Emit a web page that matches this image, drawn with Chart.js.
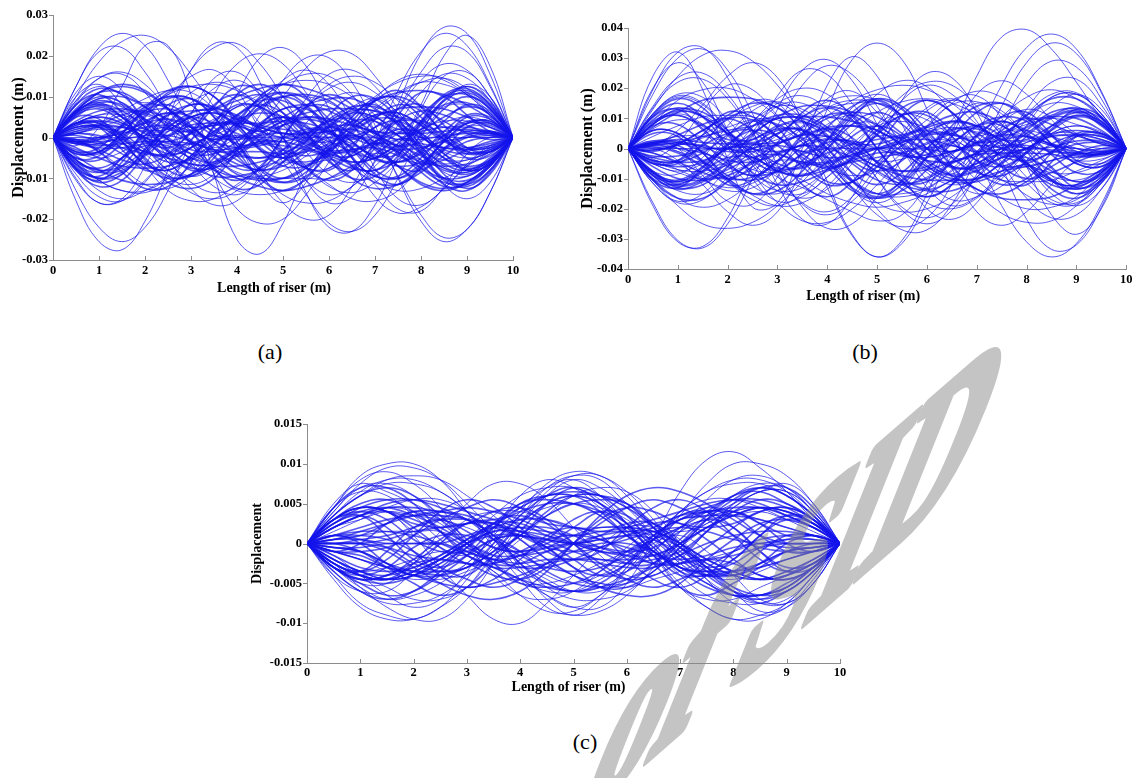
<!DOCTYPE html>
<html>
<head>
<meta charset="utf-8">
<title>Riser displacement</title>
<script src="https://cdn.jsdelivr.net/npm/chart.js@4.4.0/dist/chart.umd.min.js"></script>
<style>
  html, body { margin: 0; padding: 0; background: #fff; }
  body { width: 1136px; height: 778px; position: relative; overflow: hidden; }
  .panel { position: absolute; }
  .caption { position: absolute; font-family: 'Liberation Serif', 'Times New Roman', serif; font-size: 22px; color: #000; transform: translate(-50%, -50%); white-space: nowrap; }
  #mark { position: absolute; left: 0; top: 0; pointer-events: none; opacity: 0.5; }
</style>
</head>
<body>
<canvas id="panelA" class="panel" width="530" height="302" style="left:0px;top:0px;width:530px;height:302px"></canvas>
<canvas id="panelB" class="panel" width="566" height="312" style="left:570px;top:0px;width:566px;height:312px"></canvas>
<canvas id="panelC" class="panel" width="620" height="320" style="left:240px;top:380px;width:620px;height:320px"></canvas>
<div class="caption" style="left:270px;top:352px">(a)</div>
<div class="caption" style="left:865px;top:352px">(b)</div>
<div class="caption" style="left:585px;top:742px">(c)</div>
<canvas id="mark" width="1136" height="778"></canvas>
<script>
// Stations along the riser (m)
const xPos = [0, 0.5, 1, 1.5, 2, 2.5, 3, 3.5, 4, 4.5, 5, 5.5, 6, 6.5, 7, 7.5, 8, 8.5, 9, 9.5, 10];
const xTicks = [0, 1, 2, 3, 4, 5, 6, 7, 8, 9, 10];
const yTicksA = [-0.03, -0.02, -0.01, 0, 0.01, 0.02, 0.03];
const yTicksB = [-0.04, -0.03, -0.02, -0.01, 0, 0.01, 0.02, 0.03, 0.04];
const yTicksC = [-0.015, -0.01, -0.005, 0, 0.005, 0.01, 0.015];

// Deflected shapes, one row per snapshot, values in millimetres at the stations above
const dispA = [
  [0,12.5,22,25.5,22.5,14,2.5,-9,-17.5,-21,-20,-14,-6,2.5,9.5,14,15.5,14,10.5,5.5,0],
  [0,-1,-3.5,-7.5,-11.5,-12.5,-9,0,10.5,19.5,22,17.5,7,-5,-14.5,-18.5,-17,-12.5,-7,-2.5,0],
  [0,-15.5,-25.5,-27.5,-20.5,-8,5.5,14.5,16,10.5,0,-10.5,-16,-14.5,-5.5,8,20.5,27,25.5,15.5,0],
  [0,-2,2.5,12.5,22.5,22.5,10.5,-9,-25,-28.5,-21,-9,-2,-2,-4,-1.5,8,20,25,17.5,0],
  [0,-6.5,-10,-9,-2.5,7,16.5,22,23,18,10,1.5,-4,-4.5,0,7,14,18,16.5,10,0],
  [0,8.5,14.5,16,13,7,1,-2.5,0,3,10,17,21,20.5,15,7,-1,-7,-8.5,-5.5,0],
  [0,-13,-22,-25.5,-22,-13,-1,10.5,18,20.5,18,11,3,-4.5,-10.5,-13,-12.5,-10,-7,-3.5,0],
  [0,1.5,3.5,6.5,9.5,11.5,11,7,0,-8.5,-16,-20,-19,-12,-1,11.5,21,25.5,22.5,13,0],
  [0,1,0,-2.5,-6,-10,-11.5,-9,-3,5.5,14,19.5,19.5,13.5,3,-10,-20.5,-25.5,-22.5,-13.5,0],
  [0,-6,-10.5,-13,-13,-10,-5,0,0,0,-6,-14,-21,-23,-19,-10,1,9.5,12.5,8.5,0],
  [0,10,18.5,23.5,25,22,15.5,7.5,-1,-9,-14,-16,-15.5,-12,-7,-2,2,4,4,2.5,0],
  [0,3.5,4,0.5,-5,-9.5,-9.5,-5,3,10,13,10,3,-5,-9.5,-9.5,-5,0.5,4,3.5,0],
  [0,11,15,11.5,2.5,-6,-9.5,-7.5,-4,-1,0,1,4,7.5,9.5,6,-2.5,-11.5,-15,-11,0],
  [0,-3,-3.5,0,5.5,11,12.5,10,3.5,-3,-7,-7,-3.5,0,1.5,-1,-5.5,-10,-10.5,-7,0],
  [0,10,13,8,2,1.5,5,5.5,-1,-11,-16,-11,-1,5.5,5,1.5,2,8,13,10,0],
  [0,-8,-10.5,-6,2,8,9.5,6.5,3,1.5,3,4.5,3,-1,-4.5,-4,2,9,12.5,9,0],
  [0,3.5,5,3.5,1,-1.5,-1.5,1,5.5,9,9,5.5,-0.5,-7,-11,-11.5,-8.5,-4.5,-1,0,0],
  [0,-0.5,-3.5,-8.5,-12.5,-12,-6,3,10.5,13,10,5,1,0,0,-2,-6.5,-11.5,-13,-8.5,0],
  [0,6,9.5,8.5,3,-5,-12.5,-16.5,-15.5,-9.5,0,9.5,15.5,16.5,12.5,5,-3,-8.5,-9.5,-6,0],
  [0,12.5,21,22,16,7,-1.5,-7.5,-10,-10,-10,-10,-10,-7.5,-1.5,7,16,22,21,12.5,0],
  [0,-7.5,-13,-15,-13,-9.5,-4.5,0.5,5,9.5,13,15.5,15,10.5,1.5,-9.5,-19,-24.5,-22.5,-13.5,0],
  [0,6.5,8.5,5,-0.5,-2.5,1,7.5,12.5,11.5,6,0,-1,3,9,11.5,7.5,0.5,-5,-4.5,0],
  [0,2,2.5,0.5,-4,-9,-13.5,-15,-13,-7.5,0,7.5,13,15,13.5,9,4,-0.5,-2.5,-2,0],
  [0,-5.5,-8,-7,-3,2.5,6,7,5.5,2.5,1,1,1.5,2,0,-3.5,-8.5,-12,-11.5,-7,0],
  [0,9,12.5,10.5,8.5,10.5,15,16.5,11.5,2,-5,-6.5,-5.5,-6.5,-11.5,-17.5,-18,-12,-4,0,0],
  [0,-7.5,-9.5,-5,1.5,5.5,6.5,7,9,10.5,8,1,-6,-8,-2.5,5.5,11,10,5.5,1.5,0],
  [0,6.5,10,8.5,4.5,0,-3,-3.5,-3.5,-3.5,-4,-3.5,-1.5,2.5,5.5,6,3,-0.5,-3.5,-3,0],
  [0,2.5,2.5,-1,-7,-13,-15.5,-15,-11.5,-7.5,-6,-7.5,-11.5,-15,-15.5,-13,-7,-1,2.5,2.5,0],
  [0,1,2.5,4.5,7.5,10.5,12.5,13,11.5,8.5,5,2.5,1.5,3.5,6.5,10.5,13.5,14.5,12,7,0],
  [0,-10,-16,-15,-7,5,16.5,23,22,13.5,0,-13.5,-22,-23,-16.5,-5,7,15,16,10,0],
  [0,5,4.5,-1,-6.5,-8,-4.5,-0.5,0.5,-0.5,-1,1,4,4.5,1,-2,-1,4,8,6.5,0],
  [0,-10.5,-16,-15.5,-10.5,-5,-1.5,0.5,3.5,8.5,14,16.5,13,4,-7.5,-15,-16.5,-12.5,-6.5,-2,0],
  [0,6.5,11,12.5,11,7,2.5,-1,-2.5,-2,0,2,2.5,1,-2.5,-7,-11,-12.5,-11,-6.5,0],
  [0,1,0.5,-1.5,-3.5,-4.5,-2.5,1.5,5.5,8,6,1,-5.5,-10,-9.5,-4.5,3.5,10,11.5,8,0],
  [0,1,2,1.5,0,-2.5,-5,-8,-9.5,-9.5,-8,-4.5,0,5,10,13.5,15,14.5,11,6,0],
  [0,-8,-12,-10.5,-4,3.5,8,7,2.5,-3,-5,-3,2.5,7,8,3.5,-4,-10.5,-12,-8,0],
  [0,7,11,11,7.5,2.5,-1,-3,-2.5,-1,-1,-2.5,-4.5,-6,-5,-1.5,4,8,8.5,5.5,0],
  [0,0.5,-1,-4,-7.5,-10,-9,-4,2.5,8.5,11,9.5,4.5,-1,-5,-6,-4,-0.5,1.5,1.5,0],
  [0,1,3,5.5,6.5,4,-1.5,-8,-10.5,-7.5,0,7.5,10.5,8,1.5,-4,-6.5,-5.5,-3,-1,0],
  [0,-7,-10,-7,-0.5,5.5,8,7.5,5,3,2,1,-1,-3.5,-5,-2.5,3,9,11,7.5,0],
  [0,-1,0,3,7.5,11.5,12.5,10,4.5,-1,-5,-6,-4.5,-3,-2.5,-4.5,-7.5,-10,-9.5,-6,0],
  [0,-4.5,-8,-10.5,-11.5,-11,-9,-6,-2.5,1,4,6,7,7,6.5,5,4,2.5,1.5,0.5,0],
  [0,4,6.5,7,6,3.5,1,-0.5,0,2,5,8,9.5,9.5,7,3.5,0,-2.5,-3,-2,0],
  [0,3.5,2.5,-3,-8,-7,-2.5,0.5,-2,-7.5,-10,-7.5,-2,0.5,-2.5,-7,-8,-3,2.5,3.5,0],
  [0,6,9,7.5,4.5,2,1.5,3,3,0.5,-4,-7.5,-8,-4,0.5,4,3.5,0.5,-2.5,-2.5,0],
  [0,-6,-7.5,-5,-2,-2,-5,-6,-3,2.5,5,2.5,-3,-6,-5,-2,-2,-5,-7.5,-6,0],
  [0,3.5,5.5,6.5,5.5,3,-0.5,-5,-8.5,-10,-10,-7.5,-3.5,1.5,7,11,13.5,13,10.5,5.5,0],
  [0,-2.5,-5,-7,-7.5,-7,-5,-1.5,3,7,10,10.5,9,4.5,-1.5,-7,-11.5,-13,-11,-6.5,0],
  [0,5,8,6.5,2.5,-3,-6.5,-6.5,-4,0.5,4,5,4,1,-1.5,-3,-2.5,-1,0,0.5,0],
  [0,-1,-1,-0.5,0.5,0.5,-1,-3.5,-6.5,-8,-7,-3.5,1,4,4,0.5,-4,-8,-8.5,-5.5,0],
  [0,6.5,8,5,-0.5,-4,-2.5,1.5,4,2,-3,-7.5,-7.5,-2.5,4.5,8,6.5,1,-3.5,-3.5,0],
  [0,-4,-3.5,1,7,10,8,2.5,-1.5,-1.5,3,7.5,7.5,3,-3,-6,-3.5,1.5,5.5,5,0],
  [0,9,14.5,15.5,11,3,-6,-12,-14,-10.5,-4,3.5,9,11,8.5,3,-3.5,-7.5,-8,-5.5,0],
  [0,-5.5,-8,-7.5,-3.5,3,8.5,11,9,3.5,-4,-10.5,-14,-12,-6,3,11,15.5,14.5,9,0],
  [0,5.5,7,4,0,-1,1,3.5,3.5,1.5,0,0,0,-1.5,-5,-7,-6,-1,3.5,4,0],
  [0,-1,-2,-1.5,-1,-1,-1.5,-3,-4.5,-5,-3,0.5,4.5,7.5,7.5,5,1,-3,-4,-3,0],
  [0,-1.5,-2.5,-2.5,-1.5,0.5,4,7,10,12,13,12,10,7,4,0.5,-1.5,-2.5,-2.5,-1.5,0],
  [0,3.5,5.5,5.5,3.5,-0.5,-5.5,-10,-13,-14,-13,-10.5,-7.5,-4.5,-2,-0.5,0,0,0,0,0],
  [0,-1.5,-0.5,2.5,6.5,10,9.5,5,-2,-8,-11,-9.5,-4,2,5.5,6,3,-1,-3,-2.5,0],
  [0,3.5,5,3.5,-0.5,-6,-11,-13.5,-12,-7,0,7,12,13.5,11,6,0.5,-3.5,-5,-3.5,0],
  [0,-5.5,-8.5,-8,-4,1.5,5,6,4.5,2.5,1,1,2.5,3,1,-2.5,-7.5,-11,-11,-7,0],
  [0,-1.5,-1.5,0.5,4,6,5,1,-4.5,-9.5,-11,-8.5,-2.5,4,9,10,7.5,4,1,-0.5,0],
  [0,-1,-3,-5.5,-6.5,-4,1.5,8,10.5,7.5,0,-7.5,-10.5,-8,-1.5,4,6.5,5.5,3,1,0],
  [0,-7.5,-11,-9,-3,2.5,5,3.5,1,-1,-2,-3,-5,-7.5,-8,-5.5,0.5,7,10,7,0],
  [0,6,9.5,10,7.5,4.5,2.5,3,4.5,6,5,1,-4.5,-10,-12.5,-11.5,-7.5,-3,0,1,0],
  [0,-0.5,-1.5,-2.5,-4,-5,-6.5,-7,-7,-6,-4,-1,2.5,6,9,11,11.5,10.5,8,4.5,0],
  [0,2,3,2.5,0,-3.5,-7,-9.5,-9.5,-8,-5,-2,0,0.5,-1,-3.5,-6,-7,-6.5,-4,0],
  [0,-3.5,-2.5,3,8,7,2.5,-0.5,2,7.5,10,7.5,2,-0.5,2.5,7,8,3,-2.5,-3.5,0],
  [0,2.5,2.5,-0.5,-3.5,-4,-0.5,4,8,7.5,4,-0.5,-3,-3,-1.5,-2,-4.5,-7.5,-9,-6,0],
  [0,6,7.5,5,2,2,5,6,3,-2.5,-5,-2.5,3,6,5,2,2,5,7.5,6,0],
  [0,-5.5,-10.5,-13,-13.5,-11,-7,-1.5,3.5,7.5,10,10,8.5,5,0.5,-3,-5.5,-6.5,-5.5,-3.5,0],
  [0,6.5,11,13,11.5,7,1.5,-4.5,-9,-10.5,-10,-7,-3,1.5,5,7,7.5,7,5,2.5,0],
  [0,-0.5,0,1,2.5,3,1.5,-1,-4,-5,-4,-0.5,4,6.5,6.5,3,-2.5,-6.5,-8,-5,0],
  [0,5.5,8.5,8,4,-0.5,-4,-4,-1,3.5,7,8,6.5,3.5,1,-0.5,-0.5,0.5,1,1,0],
  [0,3.5,3.5,-1,-6.5,-8,-4.5,2.5,7.5,7.5,3,-2,-4,-1.5,2.5,4,0.5,-5,-8,-6.5,0],
  [0,-5,-5.5,-1.5,3.5,6,3,-3,-7.5,-7.5,-3,1.5,1.5,-2.5,-8,-10,-7,-1,3.5,4,0],
  [0,-9,-14.5,-15.5,-11,-3,6,12,14,10.5,4,-3.5,-9,-11,-8.5,-3,3.5,7.5,8,5.5,0],
  [0,-4,-3.5,1,6,7,5,1.5,0,0,0,-1.5,-3.5,-3.5,-1,1,0,-4,-7,-5.5,0],
  [0,3,4,3,-1,-5,-7.5,-7.5,-4.5,-0.5,3,5,4.5,3,1.5,1,1,1.5,2,1,0],
  [0,1.5,2.5,2.5,1.5,-0.5,-4,-7,-10,-12,-13,-12,-10,-7,-4,-0.5,1.5,2.5,2.5,1.5,0],
  [0,0,0,0,0,0.5,2,4.5,7.5,10.5,13,14,13,10,5.5,0.5,-3.5,-5.5,-5.5,-3.5,0],
  [0,2.5,3,1,-3,-6,-5.5,-2,4,9.5,11,8,2,-5,-9.5,-10,-6.5,-2.5,0.5,1.5,0],
  [0,-3.5,-5,-3.5,0.5,6,11,13.5,12,7,0,-7,-12,-13.5,-11,-6,-0.5,3.5,5,3.5,0],
  [0,-3.5,-4,-0.5,5,9.5,9.5,5,-3,-10,-13,-10,-3,5,9.5,9.5,5,-0.5,-4,-3.5,0],
  [0,3,3.5,0,-5.5,-11,-12.5,-10,-3.5,3,7,7,3.5,0,-1.5,1,5.5,10,10.5,7,0],
  [0,8,10.5,6,-2,-8,-9.5,-6.5,-3,-1.5,-3,-4.5,-3,1,4.5,4,-2,-9,-12.5,-9,0],
  [0,-6.5,-8.5,-5,0.5,2.5,-1,-7.5,-12.5,-11.5,-6,0,1,-3,-9,-11.5,-7.5,-0.5,5,4.5,0],
  [0,-6.5,-10,-8.5,-4.5,0,3,3.5,3.5,3.5,4,3.5,1.5,-2.5,-5.5,-6,-3,0.5,3.5,3,0],
  [0,-5,-4.5,1,6.5,8,4.5,0.5,-0.5,0.5,1,-1,-4,-4.5,-1,2,1,-4,-8,-6.5,0],
  [0,-1,-0.5,1.5,3.5,4.5,2.5,-1.5,-5.5,-8,-6,-1,5.5,10,9.5,4.5,-3.5,-10,-11.5,-8,0],
  [0,8,12,10.5,4,-3.5,-8,-7,-2.5,3,5,3,-2.5,-7,-8,-3.5,4,10.5,12,8,0]
];

const dispB = [
  [0,19.5,32,33.5,23.5,6,-12,-23.5,-25,-16,0,16,25,23.5,12,-6,-23.5,-33.5,-32,-19.5,0],
  [0,0,-4,-12,-21,-25.5,-21,-6.5,13,29.5,35,29.5,13,-6.5,-21,-25.5,-21,-12,-4,0,0],
  [0,1,6,14.5,24,28.5,23.5,9,-11,-28.5,-36,-30.5,-15,4,18,22.5,18,9.5,2,-1,0],
  [0,11.5,17,14.5,6,-3,-9.5,-13,-17,-21,-24,-22,-11.5,5.5,24,37,39.5,33,22,10,0],
  [0,-18,-30.5,-33,-25,-10,7.5,21,27.5,24.5,14,0.5,-10.5,-17,-16,-10,-1.5,5,7.5,5.5,0],
  [0,18,30,33,26,11.5,-5.5,-19.5,-26.5,-25,-16,-3.5,7.5,14.5,15.5,11.5,4.5,-1.5,-4,-3.5,0],
  [0,13,24,31,32.5,29,21,10,-1,-11,-18,-21,-20,-16,-9.5,-3,2,5,5,3,0],
  [0,2,2,0.5,-3,-7,-8,-5.5,1,9.5,18,22.5,20.5,11.5,-3,-19,-31,-36,-31.5,-18.5,0],
  [0,-0.5,1,4.5,9.5,14,15.5,12,3.5,-8.5,-20,-27,-27,-18.5,-3,14,28.5,35,31.5,18.5,0],
  [0,-7.5,-8.5,-3,7.5,15.5,15,4,-13,-29,-36,-31.5,-18,-2.5,7,7.5,0,-9,-13.5,-9.5,0],
  [0,24,32,19.5,-3.5,-19.5,-18,0,21,30.5,24,8,-5.5,-8.5,-1,8.5,13,10.5,5,1.5,0],
  [0,11.5,17.5,15,6,-5.5,-14,-15,-9.5,0,8,11.5,9.5,4,-2,-5.5,-6,-4,-1.5,0,0],
  [0,2.5,0,-9,-17.5,-18.5,-9.5,5,16.5,19,12,2.5,-2.5,-1,2,1.5,-5.5,-15,-19,-13.5,0],
  [0,-3,2,12.5,21,19.5,11,3.5,3.5,8,8,-0.5,-13,-19,-16,-8.5,-5.5,-10,-15,-11.5,0],
  [0,-1.5,-5,-10,-14,-13,-7,0.5,4,0,-10,-19.5,-23,-18.5,-9.5,-1,2.5,1,-1,-2,0],
  [0,8,11.5,8,0,-9,-14,-13,-7,0,4,3.5,0,-3,-2.5,3,11.5,18,18.5,11.5,0],
  [0,-8,-11,-6,4,12.5,15,9.5,-2.5,-13.5,-18,-13.5,-2.5,9.5,15,12.5,4,-6,-11,-8,0],
  [0,20,28.5,22,6,-10,-17.5,-16,-9.5,-3.5,0,3.5,9.5,16,17.5,10,-6,-22,-28.5,-20,0],
  [0,0.5,-1,-4.5,-10,-15.5,-19,-18,-12.5,-3,8,17.5,22,21,14,4.5,-5,-11,-12,-7.5,0],
  [0,10.5,13,6.5,0,0,5,6.5,0,-10.5,-16,-10.5,0,6.5,5,0,0,6.5,13,10.5,0],
  [0,-19,-31,-32.5,-23,-5.5,13,26,29.5,22.5,8,-8,-20,-23.5,-18,-5.5,7.5,17,18,11.5,0],
  [0,-0.5,1,3.5,7,9.5,9.5,5,-3,-13,-22,-26,-23,-12,4,21,33.5,38,33,19,0],
  [0,-10.5,-19,-25,-26.5,-24.5,-19,-11,-2.5,5.5,12,15.5,16.5,15,11.5,7.5,4,1,0,-0.5,0],
  [0,-0.5,1.5,6,10,9.5,4,-3,-6.5,-3.5,5,13.5,16,12,4,-2.5,-4,-1.5,1.5,2,0],
  [0,-11.5,-18,-17,-9.5,0,7,8.5,6,2,0,2,6,8.5,7,0,-9.5,-17,-18,-11.5,0],
  [0,1.5,-1,-5,-4.5,4,17.5,26,24.5,15,6,3.5,5.5,7,5.5,4,7.5,14,18,13,0],
  [0,-3.5,-7,-10.5,-13,-11.5,-6.5,1,8,11,8,0.5,-8,-12,-9.5,0.5,13,22,23,14.5,0],
  [0,8.5,12.5,10.5,5,0,-1,1,3,2.5,0,-2.5,-3,-1,1,0,-5,-10.5,-12.5,-8.5,0],
  [0,-4,-7,-7.5,-5.5,-1.5,4.5,10.5,15.5,17.5,16,11,3.5,-5.5,-14.5,-21.5,-24.5,-24,-19,-10.5,0],
  [0,14,23.5,25,18,5.5,-8,-18.5,-22,-17.5,-8,3.5,12.5,16,13,5.5,-3,-9,-10.5,-7,0],
  [0,-7.5,-11,-9,-2.5,7,15,17.5,13,3,-10,-20.5,-25,-20.5,-8.5,7,21.5,29,27,16.5,0],
  [0,-2.5,-2.5,-0.5,0,-3,-6.5,-6,0,8,12,8,0,-6,-6.5,-3,0,-0.5,-2.5,-2.5,0],
  [0,6.5,9.5,8,1,-8.5,-18,-24,-24.5,-20,-12,-3.5,2,2.5,-1.5,-8.5,-15.5,-18.5,-17,-10,0],
  [0,9.5,13.5,10.5,5,2,5,10.5,13.5,9.5,0,-9.5,-13.5,-10.5,-5,-2,-5,-10.5,-13.5,-9.5,0],
  [0,8,13,12,6,-2,-7.5,-9,-7,-4,-1.5,-1.5,-4,-4.5,-1.5,4,11,16.5,16.5,10.5,0],
  [0,2,2,-1,-6,-9,-7.5,-1.5,7,14,16.5,13,4,-6,-13.5,-15,-11,-6,-1.5,1,0],
  [0,-1.5,-4.5,-8,-10,-6,2,12,16,11,0,-11,-16,-12,-2,6,10,8,4.5,1.5,0],
  [0,11,16.5,13.5,4.5,-4,-7.5,-5,-1.5,1.5,3,4.5,7.5,11,12,8,-1,-10.5,-15,-10.5,0],
  [0,-9,-14,-15,-11,-7,-4,-4.5,-7,-9,-7.5,-1.5,7,15,19,17,11,4.5,0,-1.5,0],
  [0,1,2,4,6,7.5,10,10.5,10.5,9,6,1.5,-4,-9,-13.5,-16.5,-17,-16,-12,-7,0],
  [0,-3,-4.5,-4,0,5,10.5,14,14,12,7.5,3,0,-1,1.5,5,9,10.5,10,6,0],
  [0,5,4,-4.5,-12,-10.5,-4,1,-3,-11,-15,-11,-3,1,-4,-10.5,-12,-4.5,4,5,0],
  [0,-4,-4,1,5,6,1,-6,-12,-11,-6,1,4.5,4.5,2,3,7,11,13.5,9,0],
  [0,-9,-11,-7.5,-3,-3,-7.5,-9,-4.5,4,7.5,4,-4.5,-9,-7.5,-3,-3,-7.5,-11,-9,0],
  [0,8,16,19.5,20,16.5,10.5,2,-5,-11,-15,-15,-13,-7.5,-1,4.5,8,10,8,5,0],
  [0,-10,-16.5,-19.5,-17,-10.5,-2,7,13.5,16,15,10.5,4.5,-2,-7.5,-10.5,-11,-10.5,-7.5,-4,0],
  [0,1,0,-1.5,-4,-4.5,-2,1.5,6,7.5,6,1,-6,-10,-10,-4.5,4,10,12,7.5,0],
  [0,-8,-13,-12,-6,1,6,6,1.5,-5,-10.5,-12,-10,-5,-1.5,1,1,-1,-1.5,-1.5,0],
  [0,-5,-5,1.5,10,12,7,-4,-11,-11,-4.5,3,6,2,-4,-6,-1,7.5,12,10,0],
  [0,7.5,8,2,-5,-9,-4.5,4.5,11,11,4.5,-2,-2,4,12,15,10.5,1.5,-5,-6,0],
  [0,13.5,22,23,16.5,4.5,-9,-18,-21,-16,-6,5,13.5,16.5,12.5,4.5,-5,-11,-12,-8,0],
  [0,8,12,11,5,-4.5,-12.5,-16.5,-13.5,-5,6,16,21,18,9,-4.5,-16.5,-23,-22,-13.5,0],
  [0,6,5,-1.5,-9,-10.5,-7.5,-2,0,0,0,2,5,5,1.5,-1.5,0,6,10.5,8,0],
  [0,-4.5,-6,-4.5,1.5,7.5,11,11,7,1,-4.5,-7.5,-7,-4.5,-2,-1.5,-1.5,-2,-3,-1.5,0],
  [0,2,4,4,2,-1,-6,-10.5,-15,-18,-19.5,-18,-15,-10.5,-6,-1,2,4,4,2,0],
  [0,0,0,0,0,1,3,7,11,16,19.5,21,19.5,15,8,1,-5,-8,-8,-5,0],
  [0,-4,-4.5,-1.5,4.5,9,8,3,-6,-14,-16.5,-12,-3,7.5,14,15,10,4,-1,-2,0],
  [0,-5,-7.5,-5,1,9,16.5,20,18,10.5,0,-10.5,-18,-20,-16.5,-9,-1,5,7.5,5,0],
  [0,-10.5,-16.5,-16.5,-11,-4,1.5,4.5,4,1.5,1.5,4,7,9,7.5,2,-6,-12,-13,-8,0],
  [0,-1,1.5,6,11,15,13.5,6,-4,-13,-16.5,-14,-7,1.5,7.5,9,6,1,-2,-2,0],
  [0,1.5,4.5,8,10,6,-2,-12,-16,-11,0,11,16,12,2,-6,-10,-8,-4.5,-1.5,0],
  [0,10.5,15,10.5,1,-8,-12,-11,-7.5,-4.5,-3,-1.5,1.5,5,7.5,4,-4.5,-13.5,-16.5,-11,0],
  [0,1.5,0,-4.5,-11,-17,-19,-15,-7,1.5,7.5,9,7,4.5,4,7,11,15,14,9,0],
  [0,7,12,16,17,16.5,13.5,9,4,-1.5,-6,-9,-10.5,-10.5,-10,-7.5,-6,-4,-2,-1,0],
  [0,-6,-10,-10.5,-9,-5,-1.5,1,0,-3,-7.5,-12,-14,-14,-10.5,-5,0,4,4.5,3,0],
  [0,-5,-4,4.5,12,10.5,4,-1,3,11,15,11,3,-1,4,10.5,12,4.5,-4,-5,0],
  [0,-9,-13.5,-11,-7,-3,-2,-4.5,-4.5,-1,6,11,12,6,-1,-6,-5,-1,4,4,0],
  [0,9,11,7.5,3,3,7.5,9,4.5,-4,-7.5,-4,4.5,9,7.5,3,3,7.5,11,9,0],
  [0,-5,-8,-10,-8,-4.5,1,7.5,13,15,15,11,5,-2,-10.5,-16.5,-20,-19.5,-16,-8,0],
  [0,4,7.5,10.5,11,10.5,7.5,2,-4.5,-10.5,-15,-16,-13.5,-7,2,10.5,17,19.5,16.5,10,0],
  [0,-7.5,-12,-10,-4,4.5,10,10,6,-1,-6,-7.5,-6,-1.5,2,4.5,4,1.5,0,-1,0],
  [0,1.5,1.5,1,-1,-1,1.5,5,10,12,10.5,5,-1.5,-6,-6,-1,6,12,13,8,0],
  [0,-10,-12,-7.5,1,6,4,-2,-6,-3,4.5,11,11,4,-7,-12,-10,-1.5,5,5,0],
  [0,6,5,-1.5,-10.5,-15,-12,-4,2,2,-4.5,-11,-11,-4.5,4.5,9,5,-2,-8,-7.5,0],
  [0,-8,-10.5,-6,0,1.5,-1.5,-5,-5,-2,0,0,0,2,7.5,10.5,9,1.5,-5,-6,0],
  [0,1.5,3,2,1.5,1.5,2,4.5,7,7.5,4.5,-1,-7,-11,-11,-7.5,-1.5,4.5,6,4.5,0],
  [0,2,1,-4,-10,-15,-14,-7.5,3,12,16.5,14,6,-3,-8,-9,-4.5,1.5,4.5,4,0],
  [0,-11.5,-17.5,-15,-6,5.5,14,15,9.5,0,-8,-11.5,-9.5,-4,2,5.5,6,4,1.5,0,0],
  [0,-8,-11.5,-8,0,9,14,13,7,0,-4,-3.5,0,3,2.5,-3,-11.5,-18,-18.5,-11.5,0],
  [0,-10.5,-13,-6.5,0,0,-5,-6.5,0,10.5,16,10.5,0,-6.5,-5,0,0,-6.5,-13,-10.5,0],
  [0,0.5,-1.5,-6,-10,-9.5,-4,3,6.5,3.5,-5,-13.5,-16,-12,-4,2.5,4,1.5,-1.5,-2,0],
  [0,-8.5,-12.5,-10.5,-5,0,1,-1,-3,-2.5,0,2.5,3,1,-1,0,5,10.5,12.5,8.5,0],
  [0,2.5,2.5,0.5,0,3,6.5,6,0,-8,-12,-8,0,6,6.5,3,0,0.5,2.5,2.5,0],
  [0,8,11,6,-4,-12.5,-15,-9.5,2.5,13.5,18,13.5,2.5,-9.5,-15,-12.5,-4,6,11,8,0],
  [0,11.5,18,17,9.5,0,-7,-8.5,-6,-2,0,-2,-6,-8.5,-7,0,9.5,17,18,11.5,0]
];

const dispC = [
  [0,4.5,8.5,10,10,8,4,-0.5,-4.5,-8,-9,-8.5,-6.5,-3,1.5,5.5,8,8.5,7,4,0],
  [0,-4.5,-8,-9.5,-9.5,-8,-4.5,0,4,7.5,9,8.5,6.5,3,-1,-4.5,-6.5,-7.5,-6,-3.5,0],
  [0,4.5,6.5,6,3.5,0.5,-1.5,-3,-4.5,-6.5,-8,-8,-5,0.5,6.5,10.5,11.5,9.5,6.5,3,0],
  [0,3,4.5,4,1,-3,-6.5,-9.5,-10,-7.5,-4,-0.5,2,2,0.5,-3,-6,-7.5,-7,-4,0],
  [0,3,4.5,4,1.5,-0.5,-1.5,0.5,3.5,7,8.5,8,5,2.5,1.5,2.5,4.5,6.5,6.5,4,0],
  [0,-2.5,-3.5,-3,-2,-1,-1.5,-3.5,-6.5,-8.5,-8.5,-6.5,-3,0,1,-1,-4,-7,-7.5,-5,0],
  [0,4.5,8,9,7.5,4.5,0,-4,-6.5,-7,-6,-3.5,-0.5,2,3.5,4.5,4,3,2,1,0],
  [0,-1,-2,-3,-4,-4.5,-3.5,-2,0.5,3.5,6,7,6.5,4,0,-4.5,-7.5,-9,-8,-4.5,0],
  [0,0.5,1,2.5,4,4,3,1,-2.5,-5,-6,-5,-2.5,1,3,4,4,2.5,1,0.5,0],
  [0,0,-1,-3,-5,-6.5,-5.5,-2.5,1.5,5,7,6,3.5,0,-3,-3.5,-2.5,-0.5,0.5,1,0],
  [0,5,7.5,6.5,5,3.5,3,1,-3,-7,-9,-7,-3,1,3,3.5,5,6.5,7.5,5,0],
  [0,-1.5,-4,-6.5,-8,-7,-3.5,1.5,6,8,7,4.5,2,0.5,-1,-3,-5.5,-7.5,-7.5,-5,0],
  [0,2.5,4,4.5,3.5,2,0,-1.5,-1.5,-1,0,1,1.5,1.5,0,-2,-3.5,-4.5,-4,-2.5,0],
  [0,-3,-4.5,-4,-2,0.5,2.5,2.5,1,-0.5,-1,-0.5,1,2.5,2.5,0.5,-2,-4,-4.5,-3,0],
  [0,3.5,6,8,8.5,8,6,3.5,0.5,-2,-4,-5,-5.5,-4.5,-3.5,-2,-1,0,0,0,0],
  [0,0,0,-1,-3,-5,-6.5,-7,-6,-3.5,0,3.5,6,7,6.5,5,3,1,0,0,0],
  [0,-2.5,-4,-4.5,-4,-2,0.5,3.5,6,7,7,5.5,2.5,-1.5,-5,-8,-9.5,-9.5,-7.5,-4,0],
  [0,3,4,3,0.5,-1,-1,0.5,1,0,-2,-4,-3.5,-1,2,4,3.5,1,-1,-1,0],
  [0,-3,-5,-5,-2.5,1.5,5,7.5,7.5,5.5,2,-1.5,-4,-4,-2,1.5,4.5,6.5,6.5,4,0],
  [0,4.5,7,7,5,1.5,-1.5,-3,-3,-2.5,-2,-2.5,-3,-3,-1.5,1.5,5,7,7,4.5,0],
  [0,-4,-6,-6,-3.5,0,3,4,4,3,2,2,2,1.5,0,-3,-6,-8.5,-8,-5,0],
  [0,0.5,1.5,2.5,3.5,4,4.5,4,3,1.5,0,-1,-1,0.5,2,4,6,6.5,5,3,0],
  [0,-3,-4.5,-5,-4,-2,0,1,1,-0.5,-3,-5.5,-6.5,-6.5,-5,-2,0.5,2.5,3,2,0],
  [0,4,7.5,9.5,9.5,8,5,1.5,-2.5,-5.5,-7,-7,-6,-3.5,-0.5,2,4,4.5,4,2.5,0],
  [0,-2.5,-5.5,-8,-9.5,-9.5,-7,-2.5,2.5,6.5,8.5,8.5,6,2,-1.5,-3.5,-4,-3,-2,-1,0],
  [0,0,0.5,1,2,3,3,2.5,0.5,-2,-4,-5.5,-5.5,-3.5,-0.5,3,5.5,7,6,3.5,0],
  [0,1,0,-2.5,-4,-3,0,2.5,2.5,1,0,1,2.5,2.5,0,-3,-4,-2.5,0,1,0],
  [0,2,3.5,5,5.5,5,4,3,2,1.5,1,1.5,2,3,4,5,5.5,5,3.5,2,0],
  [0,-1,-1.5,-3,-4,-5,-5.5,-5,-4,-2.5,-1,0,0,-1,-3,-5,-6.5,-6.5,-5.5,-3,0],
  [0,0.5,1,1.5,1.5,1.5,0,-1.5,-3.5,-5,-6,-5.5,-3.5,-0.5,3.5,7.5,10,10,8.5,5,0],
  [0,-2.5,-3.5,-2,1,4,5.5,4.5,2,-1,-2,-1,2,4.5,5.5,4,1,-2,-3.5,-2.5,0],
  [0,-1.5,-3,-3.5,-3,-1.5,0.5,2.5,4,5,5,4,2,-1,-3.5,-5.5,-6.5,-6.5,-5.5,-3,0],
  [0,2.5,4.5,5.5,5.5,4.5,3,0.5,-1.5,-3,-3.5,-3,-1.5,0.5,3,4.5,5.5,5.5,4.5,2.5,0],
  [0,-2,-3.5,-4.5,-4,-2.5,-0.5,2,4.5,6,6.5,6,4.5,2,-0.5,-2.5,-4,-4.5,-3.5,-2,0],
  [0,3.5,6,7.5,7.5,6.5,4,0.5,-2.5,-4.5,-6,-6,-4.5,-2.5,0,2.5,4,4.5,3.5,2,0],
  [0,-2,-3.5,-4.5,-4,-2.5,0,2.5,4.5,6,6,5,2.5,-0.5,-4,-6.5,-7.5,-7.5,-6,-3.5,0],
  [0,3,5,5.5,4,1.5,-1,-2,-2.5,-2,-2,-2,-2.5,-2,-1,1.5,4,5.5,5,3,0],
  [0,-2.5,-4,-4.5,-2.5,0,2.5,3,3.5,2.5,2,1.5,1.5,1,-0.5,-3,-5.5,-6.5,-6,-3.5,0],
  [0,2,3.5,4.5,4.5,4,3.5,2,1,0.5,0,0.5,1,2,3.5,4,4.5,4.5,3.5,2,0],
  [0,1,1.5,1.5,1,0,-1.5,-3,-4.5,-5.5,-6,-5.5,-4.5,-3,-1.5,0,1,1.5,1.5,1,0],
  [0,1,2,3,3.5,3.5,3,1,-1,-3.5,-5,-5.5,-5,-2.5,0.5,3.5,6,7,6,3.5,0],
  [0,-0.5,-1,-2.5,-3.5,-4,-4,-1.5,1,4,6,6,5,2,-1.5,-4,-6,-6.5,-5,-3,0],
  [0,4,7,7.5,6,3,-0.5,-3.5,-5,-5,-4,-2.5,-1,0.5,2,3,3.5,4,3,2,0],
  [0,-3.5,-6,-7,-6,-3.5,-0.5,2.5,5,5.5,5,3.5,1,-1,-3,-3.5,-3.5,-3,-2,-1,0],
  [0,3,3.5,1,-2,-3,-1.5,0.5,1,0.5,0,0.5,1,0.5,-1.5,-3,-2,1,3.5,3,0],
  [0,0.5,0.5,0,0,0,1,2,1.5,-0.5,-3,-4,-2.5,0.5,3.5,4,2,-1,-3,-2.5,0],
  [0,3.5,6.5,8,8,6.5,4,0.5,-2,-4,-5,-4,-2,0.5,4,6.5,8,8,6.5,3.5,0],
  [0,-3,-5.5,-7,-6.5,-5,-2.5,0.5,3,4.5,5,3.5,1,-1.5,-5.5,-8,-9.5,-9,-7.5,-4,0],
  [0,1,1,0.5,-1,-3,-4.5,-5.5,-4.5,-2.5,0,2.5,4.5,5.5,4.5,3,1,-0.5,-1,-1,0],
  [0,3,4.5,4,2.5,2,2.5,4,4.5,3,0,-3,-4.5,-4,-2.5,-2,-2.5,-4,-4.5,-3,0],
  [0,1.5,3,4.5,5.5,5.5,4,0.5,-3.5,-6.5,-8,-6.5,-3.5,0.5,4,5.5,5.5,4.5,3,1.5,0],
  [0,-2,-4,-5.5,-7,-7,-5.5,-1.5,2.5,6,8,7,4.5,1,-2.5,-4,-4.5,-3.5,-2,-1,0],
  [0,2,3.5,4,3,1.5,-0.5,-2,-3,-3,-2,-0.5,0.5,1.5,2,1.5,0.5,0,-0.5,-0.5,0],
  [0,0,0,-0.5,-1.5,-2,-2.5,-2.5,-1.5,-0.5,1,2,2,1.5,0,-2,-3.5,-4.5,-4,-2.5,0],
  [0,2,3.5,4.5,4,2.5,0,-2.5,-4.5,-6,-6,-4.5,-2.5,0.5,4,6.5,7.5,7.5,6,3.5,0],
  [0,-3.5,-6,-7.5,-7.5,-6.5,-4,-0.5,2.5,5,6,6,4.5,2.5,0,-2.5,-4,-4.5,-3.5,-2,0],
  [0,3.5,6,7,6,3.5,0.5,-2.5,-5,-5.5,-5,-3.5,-1,1,3,3.5,3.5,3,2,1,0],
  [0,-3,-5,-6.5,-6,-4,-1.5,2,5,6,6,4,1,-1.5,-4,-4,-3.5,-2.5,-1,-0.5,0],
  [0,2,3,4,3.5,3,2,0.5,-1,-2.5,-4,-5,-5,-3.5,-0.5,3,6,7.5,7,4,0],
  [0,-1,-2,-3,-3.5,-3.5,-3,-1,1,3.5,5,5.5,5,2.5,-0.5,-3.5,-6,-7,-6,-3.5,0],
  [0,-3,-3.5,-1,2,3,1.5,-0.5,-1,-0.5,0,-0.5,-1,-0.5,1.5,3,2,-1,-3.5,-3,0],
  [0,-0.5,-0.5,0,0,0,-1,-2,-1.5,0.5,3,4,2.5,-0.5,-3.5,-4,-2,1,3,2.5,0],
  [0,-4,-7.5,-9,-9.5,-8,-5.5,-1.5,1,3.5,5,4.5,3,0.5,-2.5,-5,-6.5,-7,-5.5,-3,0],
  [0,-1,-1,-0.5,1,3,4.5,5.5,4.5,2.5,0,-2.5,-4.5,-5.5,-4.5,-3,-1,0.5,1,1,0],
  [0,-3,-4.5,-4,-2.5,-2,-2.5,-4,-4.5,-3,0,3,4.5,4,2.5,2,2.5,4,4.5,3,0],
  [0,-1,-2,-3.5,-4.5,-4,-2.5,1,4.5,7,8,6,2.5,-1.5,-5.5,-7,-7,-5.5,-4,-2,0],
  [0,-2,-3.5,-4,-3,-1.5,0.5,2,3,3,2,0.5,-0.5,-1.5,-2,-1.5,-0.5,0,0.5,0.5,0],
  [0,0,0,0.5,1.5,2,2.5,2.5,1.5,0.5,-1,-2,-2,-1.5,0,2,3.5,4.5,4,2.5,0],
  [0,-2.5,-4,-4.5,-3.5,-2,0,1.5,2,2,1,-0.5,-1.5,-2.5,-2.5,-2,-1.5,-0.5,0,0,0],
  [0,-0.5,-1,-2.5,-4,-4,-3,-1,2.5,5,6,5,2.5,-1,-3,-4,-4,-2.5,-1,-0.5,0],
  [0,-2.5,-4,-4.5,-3.5,-2,0,1.5,1.5,1,0,-1,-1.5,-1.5,0,2,3.5,4.5,4,2.5,0],
  [0,3,4.5,4,2,-0.5,-2.5,-2.5,-1,0.5,1,0.5,-1,-2.5,-2.5,-0.5,2,4,4.5,3,0],
  [0,-3,-4,-3,-0.5,1,1,-0.5,-1,0,2,4,3.5,1,-2,-4,-3.5,-1,1,1,0],
  [0,-1,0,2.5,4,3,0,-2.5,-2.5,-1,0,-1,-2.5,-2.5,0,3,4,2.5,0,-1,0],
  [0,2.5,3.5,2,-1,-4,-5.5,-4.5,-2,1,2,1,-2,-4.5,-5.5,-4,-1,2,3.5,2.5,0],
  [0,1,0.5,-0.5,-2.5,-3.5,-3,0,3.5,6,7,5,1.5,-2.5,-5.5,-6.5,-5,-3,-1,0,0]
];

const MM = 0.001;                       // millimetres -> metres
const SERIF = "'Liberation Serif', 'Times New Roman', Times, serif";
const LINE = 'rgba(20, 20, 235, 0.7)';
const AXIS = '#8c8c8c';
const X_TITLE = 'Length of riser (m)';

// Short tick marks (inward on x, outward on y) and the x-axis caption
const axisDecor = {
  id: 'axisDecor',
  afterDraw(chart, args, opts) {
    const { ctx, chartArea, scales: { x, y } } = chart;
    ctx.save();
    ctx.strokeStyle = AXIS;
    ctx.lineWidth = 1;
    ctx.beginPath();
    x.ticks.forEach(t => {
      const px = Math.round(x.getPixelForValue(t.value)) + 0.5;
      ctx.moveTo(px, x.top);
      ctx.lineTo(px, x.top - 4);
    });
    y.ticks.forEach(t => {
      const py = Math.round(y.getPixelForValue(t.value)) + 0.5;
      ctx.moveTo(y.right, py);
      ctx.lineTo(y.right - 4, py);
    });
    ctx.stroke();
    ctx.fillStyle = '#000';
    ctx.font = 'bold 14px ' + SERIF;
    ctx.textAlign = 'center';
    ctx.textBaseline = 'middle';
    ctx.fillText(X_TITLE, (chartArea.left + chartArea.right) / 2 + opts.dx, opts.y);
    ctx.restore();
  }
};

function drawPanel(id, curves, yTicks, yTitle, g) {
  // small-amplitude shapes form the dense central band and get a slightly heavier stroke
  const datasets = curves.map(c => {
    const peak = Math.max(...c.map(Math.abs));
    return {
      data: xPos.map((x, i) => ({ x: x, y: c[i] * MM })),
      borderColor: LINE,
      borderWidth: peak <= g.bandLimit ? 1.6 : 1.0,
      pointRadius: 0,
      tension: 0.4,
      fill: false
    };
  });
  new Chart(document.getElementById(id), {
    type: 'line',
    data: { datasets },
    options: {
      responsive: false,
      animation: false,
      events: [],
      layout: { padding: g.pad },
      plugins: {
        legend: { display: false },
        tooltip: { enabled: false },
        axisDecor: { dx: g.titleDx, y: g.titleY }
      },
      scales: {
        x: {
          type: 'linear', min: 0, max: 10,
          grid: { display: false, drawTicks: false },
          border: { display: true, color: AXIS, width: 1 },
          afterBuildTicks: s => { s.ticks = xTicks.map(v => ({ value: v })); },
          afterFit: s => { s.height = g.xHeight; },
          ticks: { padding: g.xTickPad, color: '#000', maxRotation: 0, autoSkip: false,
                   font: { family: SERIF, weight: 'bold', size: 12.5 } },
          title: { display: false }
        },
        y: {
          type: 'linear', min: yTicks[0], max: yTicks[yTicks.length - 1],
          grid: { display: false, drawTicks: false },
          border: { display: true, color: AXIS, width: 1 },
          afterBuildTicks: s => { s.ticks = yTicks.map(v => ({ value: v })); },
          afterFit: s => { s.width = g.yWidth; },
          ticks: { padding: 5, color: '#000', autoSkip: false,
                   font: { family: SERIF, weight: 'bold', size: 12.5 },
                   callback: v => String(+(+v).toFixed(3)) },
          title: { display: true, text: yTitle, color: '#000',
                   font: { family: SERIF, weight: 'bold', size: g.yTitleSize },
                   padding: { top: g.yTitlePad, bottom: 0 } }
        }
      }
    },
    plugins: [axisDecor]
  });
}

drawPanel('panelA', dispA, yTicksA, 'Displacement (m)', {
  pad: { top: 15, right: 17, bottom: 0, left: 0 },
  yWidth: 53, xHeight: 42, xTickPad: 3.5, yTitlePad: 9.4, yTitleSize: 16,
  titleDx: -9, titleY: 288, bandLimit: 13
});
drawPanel('panelB', dispB, yTicksB, 'Displacement (m)', {
  pad: { top: 28, right: 9, bottom: 0, left: 0 },
  yWidth: 58, xHeight: 43, xTickPad: 3.5, yTitlePad: 8.4, yTitleSize: 16,
  titleDx: -14, titleY: 296, bandLimit: 17
});
drawPanel('panelC', dispC, yTicksC, 'Displacement', {
  pad: { top: 44, right: 20, bottom: 0, left: 0 },
  yWidth: 67, xHeight: 37, xTickPad: 2, yTitlePad: 8.6, yTitleSize: 14,
  titleDx: -5, titleY: 307, bandLimit: 7
});

// Repository stamp laid over the page (canvas opacity set in CSS)
(function () {
  const ctx = document.getElementById('mark').getContext('2d');
  ctx.setTransform(0.69, -0.60, -0.52, 1.30, 575, 822);
  ctx.font = 'bold 200px ' + SERIF;
  ctx.fillStyle = '#8a8a8a';
  ctx.strokeStyle = '#8a8a8a';
  ctx.lineWidth = 11;
  ctx.lineJoin = 'round';
  ctx.textBaseline = 'alphabetic';
  ctx.fillText('of SID', 0, 0);
  ctx.strokeText('of SID', 0, 0);
})();
</script>
</body>
</html>
